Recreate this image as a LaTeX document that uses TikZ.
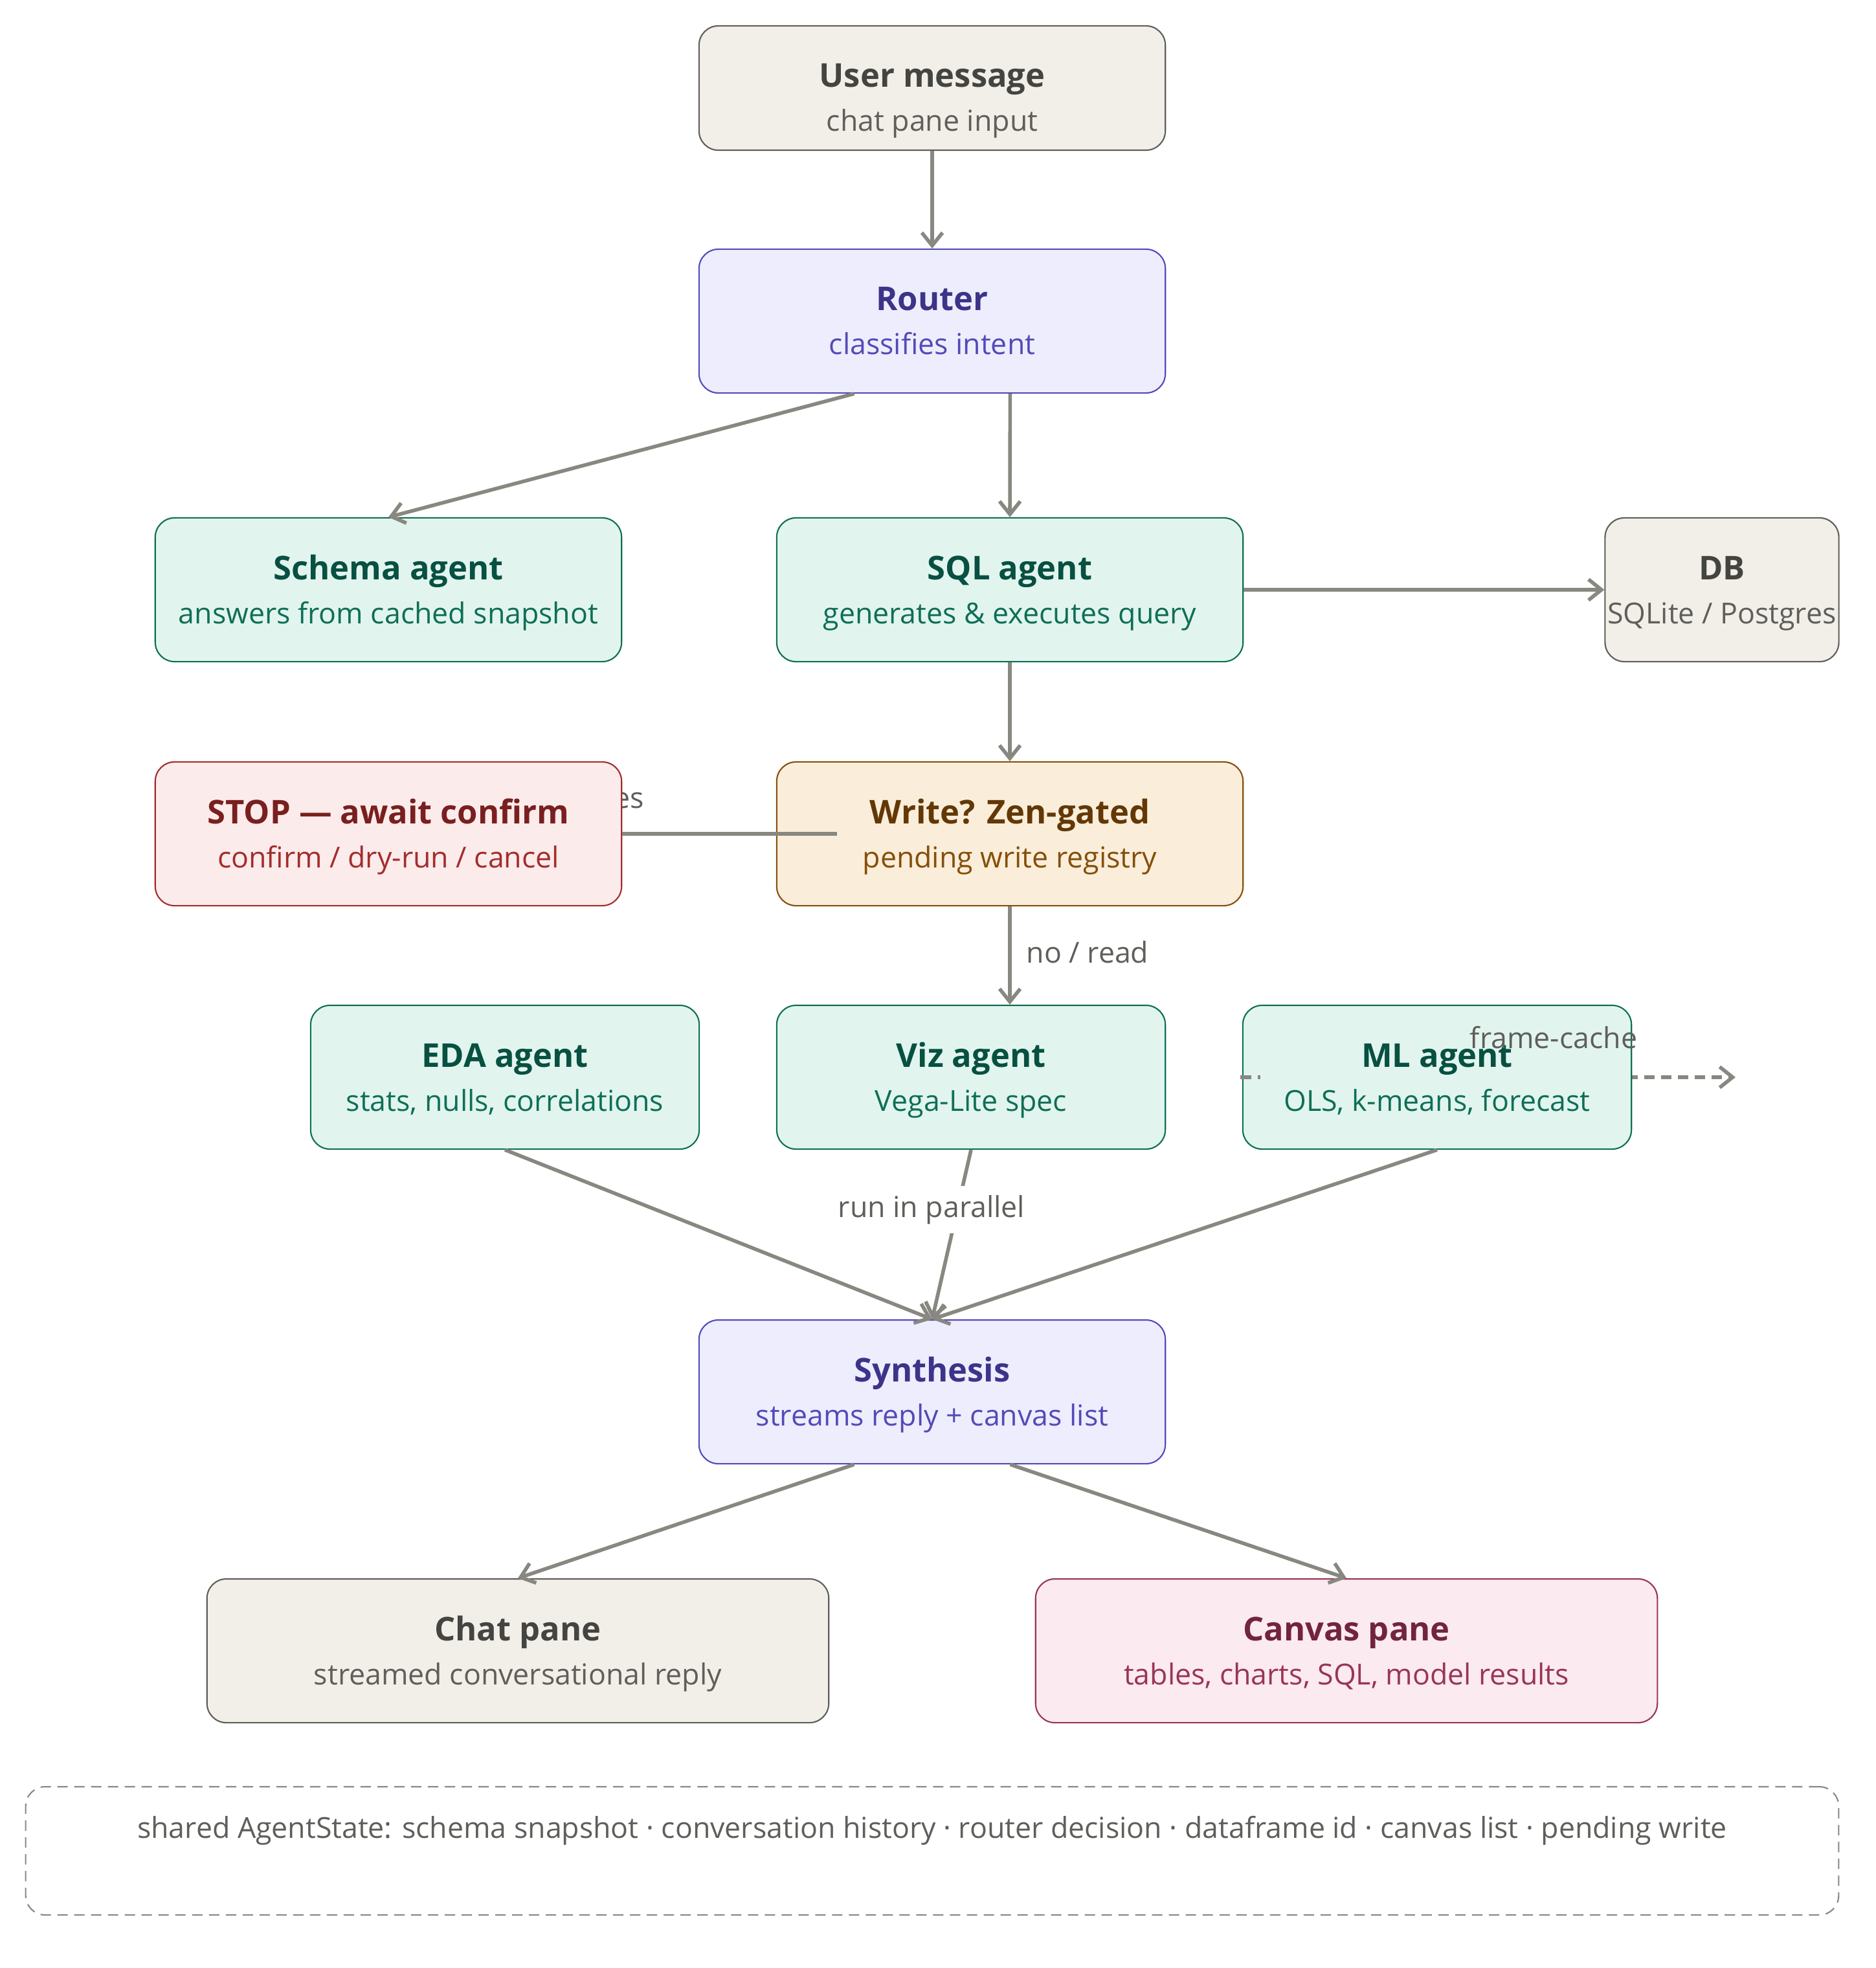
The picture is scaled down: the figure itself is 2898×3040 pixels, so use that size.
\documentclass[tikz,border=0pt]{standalone}
\usepackage{fontspec}
\setmainfont{Open Sans}
\usetikzlibrary{arrows.meta,calc}
\pgfdeclarelayer{background}
\pgfsetlayers{background,main}
\definecolor{bgrayF}{HTML}{F1EFE8}\definecolor{bgrayD}{HTML}{5F5E5A}\definecolor{bgrayT}{HTML}{444441}\definecolor{bgrayS}{HTML}{5F5E5A}
\definecolor{bpurpleF}{HTML}{EEEDFE}\definecolor{bpurpleD}{HTML}{534AB7}\definecolor{bpurpleT}{HTML}{3C3489}\definecolor{bpurpleS}{HTML}{534AB7}
\definecolor{bgreenF}{HTML}{E1F5EE}\definecolor{bgreenD}{HTML}{0F6E56}\definecolor{bgreenT}{HTML}{085041}\definecolor{bgreenS}{HTML}{0F6E56}
\definecolor{bredF}{HTML}{FCEBEB}\definecolor{bredD}{HTML}{A32D2D}\definecolor{bredT}{HTML}{791F1F}\definecolor{bredS}{HTML}{A32D2D}
\definecolor{bamberF}{HTML}{FAEEDA}\definecolor{bamberD}{HTML}{854F0B}\definecolor{bamberT}{HTML}{633806}\definecolor{bamberS}{HTML}{854F0B}
\definecolor{bpinkF}{HTML}{FBEAF0}\definecolor{bpinkD}{HTML}{993556}\definecolor{bpinkT}{HTML}{72243E}\definecolor{bpinkS}{HTML}{993556}
\definecolor{edgecol}{HTML}{888780}
\definecolor{labelcol}{HTML}{5F5E5A}
\tikzset{
  box/.style={rounded corners=0.3cm, line width=0.6pt, minimum height=2.22cm, inner sep=0pt},
  bgray/.style={box, fill=bgrayF, draw=bgrayD},
  bpurple/.style={box, fill=bpurpleF, draw=bpurpleD},
  bgreen/.style={box, fill=bgreenF, draw=bgreenD},
  bred/.style={box, fill=bredF, draw=bredD},
  bamber/.style={box, fill=bamberF, draw=bamberD},
  bpink/.style={box, fill=bpinkF, draw=bpinkD},
  ttl/.style={inner sep=0pt, font=\fontsize{14.4pt}{17pt}\selectfont\bfseries},
  sub/.style={inner sep=0pt, font=\fontsize{12.7pt}{15pt}\selectfont},
  lbl/.style={inner sep=0pt, text=labelcol, font=\fontsize{12.7pt}{15pt}\selectfont},
  edge/.style={draw=edgecol, line width=1.6pt, -{Straight Barb[length=0.2cm,width=0.32cm,line width=1.6pt]}},
  plainedge/.style={draw=edgecol, line width=1.6pt},
  dashline/.style={draw=edgecol, line width=1.6pt, dash pattern=on 0.16cm off 0.1cm},
  dashedge/.style={dashline, -{Straight Barb[length=0.2cm,width=0.32cm,line width=1.6pt]}},
}
\newcommand{\diagbox}[6]{%
  \node[#2, minimum width=#4] (#1) at #3 {};
  \node[ttl, text=#2T, anchor=base] (#1-t) at ($(#1.center)+(0,-16)$) {#5};
  \node[sub, text=#2S, anchor=base] (#1-s) at ($(#1.center)+(0,52)$) {#6};
}
\begin{document}
\begin{tikzpicture}[x=0.01cm, y=-0.01cm]
\useasboundingbox (0,0) rectangle (2898,3040);
% user message
\node[bgray, minimum width=7.2cm, minimum height=1.92cm] (user) at (1440,136) {};
\node[ttl, text=bgrayT, anchor=base] (user-t) at (1440,135) {User message};
\node[sub, text=bgrayS, anchor=base] (user-s) at (1440,203) {chat pane input};
\diagbox{router}{bpurple}{(1440,496)}{7.2cm}{Router}{classifies intent}
\diagbox{schema}{bgreen}{(600,911)}{7.2cm}{Schema agent}{answers from cached snapshot}
\diagbox{sql}{bgreen}{(1560,911)}{7.2cm}{SQL agent}{generates \& executes query}
\diagbox{db}{bgray}{(2660,911)}{3.61cm}{DB}{SQLite / Postgres}
\diagbox{stop}{bred}{(600,1288)}{7.2cm}{STOP — await confirm}{confirm / dry-run / cancel}
\diagbox{write}{bamber}{(1560,1288)}{7.2cm}{Write? Zen-gated}{pending write registry}
\diagbox{eda}{bgreen}{(780,1664)}{6.0cm}{EDA agent}{stats, nulls, correlations}
\diagbox{viz}{bgreen}{(1500,1664)}{6.0cm}{Viz agent}{Vega-Lite spec}
\diagbox{ml}{bgreen}{(2220,1664)}{6.0cm}{ML agent}{OLS, k-means, forecast}
\diagbox{synth}{bpurple}{(1440,2150)}{7.2cm}{Synthesis}{streams reply + canvas list}
\diagbox{chat}{bgray}{(800,2550)}{9.6cm}{Chat pane}{streamed conversational reply}
\diagbox{canvas}{bpink}{(2080,2550)}{9.6cm}{Canvas pane}{tables, charts, SQL, model results}
% shared state
\node[draw=edgecol, line width=0.6pt, dash pattern=on 0.16cm off 0.1cm, rounded corners=0.3cm, minimum width=27.99cm, minimum height=1.98cm] (shared) at (1440,2859) {};
\node[lbl, anchor=base] (shared-t) at (1440,2839) {shared AgentState: schema snapshot · conversation history · router decision · dataframe id · canvas list · pending write};
% edges
\draw[edge] (user) -- (router);
\draw[edge] ($(router.south west)!1/3!(router.south east)$) -- (schema.north);
\draw[edge] ($(router.south west)!2/3!(router.south east)$) -- (sql.north);
\draw[edge] (sql.east) -- (db.west);
\draw[edge] (sql) -- (write);
\coordinate (wyes) at ($(write.west)+(94,0)$);
\draw[plainedge] (wyes) -- (stop.east);
\begin{pgfonlayer}{background}
\node[lbl, anchor=base] (yes-l) at (960,1248) {yes};
\end{pgfonlayer}
\draw[edge] (write.south) -- (write.south |- viz.north);
\node[lbl, anchor=base] (no-l) at (1680,1487) {no / read};
\coordinate (fc) at (2681,1664);
\begin{pgfonlayer}{background}
\draw[dashedge] ($(ml.west)+(-3,0)$) -- (fc);
\end{pgfonlayer}
\draw[dashline] ($(ml.west)+(-2,0)$) -- ($(ml.west)+(28,0)$);
\node[lbl, anchor=base] (fc-l) at (2400,1619) {frame-cache};
\draw[edge] (eda.south) -- (synth.north);
\draw[edge] (viz.south) -- (synth.north);
\draw[edge] (ml.south) -- (synth.north);
\node[lbl, anchor=base, fill=white, inner xsep=0.04cm, inner ysep=0.14cm] (par-l) at (1439,1880) {run in parallel};
\draw[edge] ($(synth.south west)!1/3!(synth.south east)$) -- (chat.north);
\draw[edge] ($(synth.south west)!2/3!(synth.south east)$) -- (canvas.north);
\end{tikzpicture}
\end{document}
